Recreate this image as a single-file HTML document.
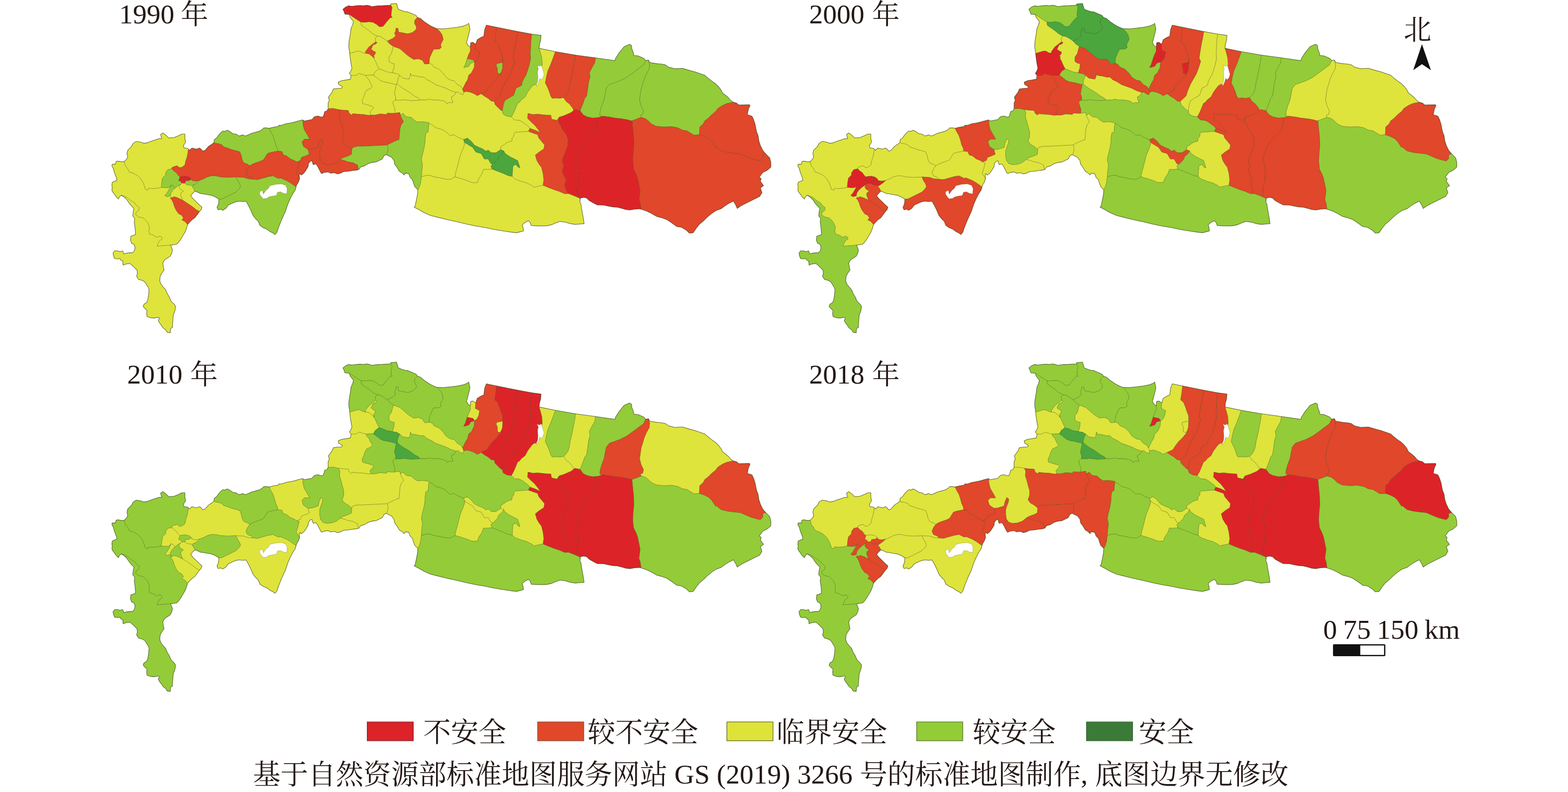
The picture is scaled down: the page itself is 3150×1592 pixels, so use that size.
<!DOCTYPE html>
<html><head><meta charset="utf-8"><title>map</title>
<style>
html,body{margin:0;padding:0;background:#fff;}
body{width:3150px;height:1592px;position:relative;overflow:hidden;font-family:"Liberation Serif","Noto Serif CJK SC",serif;}
</style></head><body>
<svg width="3150" height="1592" viewBox="0 0 3150 1592" style="position:absolute;left:0;top:0">
<defs>
<path id="f0" d="M784.5,10.1L784.4,10.5L773.9,11.1L768.1,11.4L761.1,11.6L754.1,12.2L747.1,13.4L742.5,11.6L736.7,10.5L729.7,11.6L723.9,11.1L716.9,11.4L709.9,12.2L705.2,12.6L700.6,11.6L694.7,14L688.9,18.6L691.2,23.3L693,28.5L701.7,29.1L708.7,33.8L715.7,38.4L725,44.3L733.2,44.8L741.3,43.7L749.5,44.8L756.5,48.9L762.3,53.8L769.3,53L772.8,48.9L776.3,44.3L781.5,38.4L784.4,34.9L788.1,35.6L785.6,31.4L786.2,23.3L787.7,15.1L785,10.2Z"/>
<path id="f1" d="M835.7,30.9L827.5,27.4L819.3,23.9L813.5,23.3L807.7,21.5L800.1,18.6L798.4,12.8L796.6,7L785,7.9L784.5,10.1L785,10.2L787.7,15.1L786.2,23.3L785.6,31.4L788.1,35.6L784.4,34.9L781.5,38.4L776.3,44.3L772.8,48.9L769.3,53L762.3,53.8L756.5,48.9L749.5,44.8L741.3,43.7L733.2,44.8L725,44.3L726.2,51.2L733.2,55.9L741.3,61.7L748.3,67.5L756.5,72.2L757.5,72.4L757.6,72.4L763.4,73.4L771.6,78L778,82.7L789.7,76.9L794.9,72.2L792.6,66.4L794.9,62.9L795.5,56.5L799.5,57.1L800.7,64.6L807.7,65.8L819.3,68.1L828.7,65.2L835.7,59.4L836.8,54.7L832.7,46.6L833.3,40.8L838.6,34.9Z"/>
<path id="f2" d="M871.8,55.3L863.6,51.2L853.1,44.3L845,37.3L838.6,34.9L833.3,40.8L832.7,46.6L836.8,54.7L835.7,59.4L828.7,65.2L819.3,68.1L807.7,65.8L800.7,64.6L799.5,57.1L795.5,56.5L794.9,62.9L792.6,66.4L794.9,72.2L789.7,76.9L778,82.7L783.2,88.5L790.2,93.2L803,97.8L811.2,104.8L819.3,111.8L826.3,116.5L831,119.4L840.3,118.2L848.5,121.1L853.1,128.7L861.9,128.1L862,126.6L862.1,126.5L863,116.5L867.1,107.1L871.2,99L882.8,98.4L886.3,95.5L885.1,89.7L890.4,79.2L888.1,69.9L883.4,62.9L877.6,57.6Z"/>
<path id="f3" d="M944.8,94.4L941,92.1L937.1,85.9L939.4,78.1L941.7,68.8L944.1,58.7L941.7,46.8L939.3,48.9L931.1,52.4L919.5,54.7L905.5,56.5L890.4,58L877.6,57.6L883.4,62.9L888.1,69.9L890.4,79.2L885.1,89.7L886.3,95.5L882.8,98.4L871.2,99L867.1,107.1L863,116.5L862.1,126.5L862,126.6L868.3,130L871.8,134.7L882.2,139.3L890.4,147.5L896.2,155.6L904.4,160.9L912.5,162.6L918.3,169.6L926.5,174.3L928.8,178.9L929.3,179.1L930.9,176L935.5,166.6L939.4,160.4L941.7,151.1L947.2,146.5L952.6,135.6L953.4,124.7L945.6,127L941.7,133.3L931.6,135.9L934.8,129.4L938.6,117.7L941,110.7L944.8,103Z"/>
<path id="f4" d="M955.7,89L950.3,85.1L945.6,85.9L944.8,94.4L944.8,103L941,110.7L938.6,117.7L950.3,120.1L953.4,124.7L958,121.6L961.9,113.9L963.5,104.5L954.9,99.9Z"/>
<path id="f5" d="M997.6,54.8L977.1,50.5L973.6,59.5L972,72.7L966.6,75L958.8,79.7L955.7,89L954.9,99.9L963.5,104.5L961.9,113.9L958,121.6L953.4,124.7L952.6,135.6L947.2,146.5L941.7,151.1L939.4,160.4L935.5,166.6L930.9,176L929.3,179.1L931.6,185.3L931.6,185.3L937.1,183.7L944.8,185.3L952.6,188.4L958.8,192.3L966.6,188.4L978.2,183L983.7,174.4L989.9,166.6L997.6,158.9L1005.4,149.6L1007.1,144.9L1007,144.9L1004.6,148.8L999.2,146.5L999.2,137.1L996.9,132.5L997.6,127.8L1010.1,125.5L1009.8,114.6L1007,107.6L1003.9,98.3L1000,88.2L993.8,82.8L996.1,68.8Z"/>
<path id="f6" d="M1040.3,63.4L997.6,54.8L996.1,68.8L993.8,82.8L1000,88.2L1003.9,98.3L1007,107.6L1009.8,114.6L1010.1,125.5L1009.3,138.7L1007.1,144.9L1005.4,149.6L997.6,158.9L989.9,166.6L983.7,174.4L978.2,183L966.6,188.4L972.8,193L980.6,197.7L986.8,203.1L993,203.9L997.6,199.3L1004.6,193L1007,185.3L1009.3,179.1L1013.2,169.8L1019.4,158.9L1025.6,148L1030.2,135.6L1034.1,123.2L1031,117L1032.6,106.1L1034.9,92.1L1038,76.6Z"/>
<path id="f7" d="M1068.3,68.5L1040.3,63.4L1038,76.6L1034.9,92.1L1032.6,106.1L1031,117L1034.1,123.2L1030.2,135.6L1025.6,148L1019.4,158.9L1013.2,169.8L1009.3,179.1L1007,185.3L1004.6,193L997.6,199.3L993,203.9L994.5,210.1L1000.7,216.3L1006.2,221.8L1009.3,222.5L1010.1,216.3L1011.6,208.6L1014.7,201.6L1022.5,196.9L1031.8,191.5L1034.1,185.3L1036.5,177.5L1042.7,174.4L1048.1,171.3L1048.9,165.1L1052,158.9L1056.6,151.1L1059.8,141.8L1063.6,129.4L1066,117L1065.2,107.6L1066,95.2L1066.7,81.2Z"/>
<path id="f8" d="M1083,97.1L1083.8,89L1086.1,81.2L1086.9,71.1L1068.3,68.5L1066.7,81.2L1066,95.2L1065.2,107.6L1066,117L1063.6,129.4L1059.8,141.8L1056.6,151.1L1052,158.9L1048.9,165.1L1048.1,171.3L1042.7,174.4L1036.5,177.5L1034.1,185.3L1031.8,191.5L1022.5,196.9L1014.7,201.6L1011.6,208.6L1010.1,216.3L1009.3,222.5L1009.4,223.2L1009.6,225.6L1011,229.5L1011.5,229.8L1018,233.4L1027.3,234.9L1029.3,231.3L1032,226.4L1036.6,215.5L1039.8,207.8L1043.6,205.5L1047.3,200.8L1054.1,195.4L1055.1,194.6L1059.8,185.3L1064.4,179.1L1069.1,172.9L1073.7,169.8L1078.4,169.8L1083,162L1086.1,146.5L1089.3,129.4L1088.5,117L1086.1,107.6Z"/>
<path id="f9" d="M1086.1,107.6L1088.5,117L1089.3,129.4L1086.1,146.5L1083,162L1078.4,169.8L1073.7,169.8L1069.1,172.9L1064.4,179.1L1059.8,185.3L1055.1,194.6L1054.1,195.4L1047.3,200.8L1043.6,205.5L1039.8,207.8L1036.6,215.5L1032,226.4L1029.3,231.3L1027.3,234.9L1033.5,241.1L1042.9,241.9L1049.1,245L1055.3,249.7L1061.5,254.3L1064.6,258.2L1073.9,261.3L1085.6,266.8L1080.1,259L1073.9,251.2L1066.9,245L1059.9,238L1060.7,228L1070.8,230.3L1080.1,229.5L1094.1,231.1L1106.5,231.8L1108.1,239.6L1118.9,241.9L1122,237.3L1123.6,235.4L1132.9,232.6L1146.9,226.4L1152.5,222L1152.6,221.9L1149.8,216.3L1143.6,208.6L1137.4,203.9L1132,196.1L1125,197.7L1115.7,196.9L1109.4,197.7L1106.3,193L1104,185.3L1100.9,177.5L1095.5,166.6L1097.8,154.2L1100.9,141.8L1106.3,129.4L1111,117L1115.7,103.8L1083,97.1Z"/>
<path id="f10" d="M1156,110.7L1115.7,103.8L1111,117L1106.3,129.4L1100.9,141.8L1097.8,154.2L1095.5,166.6L1100.9,177.5L1104,185.3L1106.3,193L1109.4,197.7L1115.7,196.9L1125,197.7L1132,196.1L1135.8,193L1140.5,186.8L1143.6,177.5L1145.2,166.6L1148.3,154.2L1151.4,138.7L1154.5,123.2Z"/>
<path id="f11" d="M1196.4,116.2L1156,110.7L1154.5,123.2L1151.4,138.7L1148.3,154.2L1145.2,166.6L1143.6,177.5L1140.5,186.8L1135.8,193L1132,196.1L1137.4,203.9L1143.6,208.6L1149.8,216.3L1152.6,221.9L1154.7,220.2L1165.3,222.5L1168.4,214.8L1171.6,207L1174.7,197.7L1178.5,193L1180.9,177.5L1182.4,165.1L1185.5,154.2L1184,146.5L1188.6,137.1L1194.8,126.3Z"/>
<path id="f12" d="M1281.8,112.3L1273.3,111.5L1272.5,106.1L1269.4,98.3L1268.6,91.3L1264.7,89L1253.9,93.7L1243.8,106.1L1236.8,117L1235.2,121.9L1196.4,116.2L1194.8,126.3L1188.6,137.1L1184,146.5L1185.5,154.2L1182.4,165.1L1180.9,177.5L1178.5,193L1174.7,197.7L1171.6,207L1168.4,214.8L1165.3,222.5L1165.5,222.5L1167.6,225.5L1171.7,231.1L1179.5,234.9L1190.4,237.3L1198.5,236.7L1201.2,236.5L1208.2,234.2L1207.6,233.4L1206.1,231.3L1205.9,231.1L1205,231L1205.7,224.1L1208.8,213.2L1213.5,200.8L1215.8,188.4L1218.1,177.5L1224.3,169.8L1233.7,166.6L1246.1,162L1258.5,155.8L1269.4,148L1281.8,138.7L1292.7,130.9L1297.3,121.6L1292.7,117Z"/>
<path id="f13" d="M1269.4,148L1258.5,155.8L1246.1,162L1233.7,166.6L1224.3,169.8L1218.1,177.5L1215.8,188.4L1213.5,200.8L1208.8,213.2L1205.7,224.1L1205,231L1205.9,231.1L1206.1,231.3L1207.6,233.4L1208.2,234.2L1208.2,234.2L1210.6,233.4L1219.6,234.5L1223,234.9L1235.4,237.3L1249.4,238.8L1261.8,241.1L1266.8,242.6L1269.1,242.9L1277.6,239.8L1287.7,235.9L1288.2,236L1288.2,236L1286.3,231.6L1291.1,230.3L1292.7,222.5L1288,213.2L1284.9,200.8L1286.5,189.9L1288,179.1L1291.1,169.8L1294.2,158.9L1298.9,148L1304.3,138.7L1305.1,129.4L1302.8,120.8L1297.3,121.6L1292.7,130.9L1281.8,138.7Z"/>
<path id="f14" d="M1468.6,202.5L1464,197L1457.8,191.6L1451.6,187L1448.4,180.7L1443.8,174.5L1437.6,168.3L1429.8,162.9L1422,156.7L1415.8,151.2L1406.5,148.1L1395.7,144.3L1386.3,141.9L1378.6,139.6L1370.8,137.3L1355.3,138L1342.9,134.9L1336.6,130.3L1328.9,128.7L1320.3,128L1320,128.1L1305.1,125.5L1302.8,120.8L1305.1,129.4L1304.3,138.7L1298.9,148L1294.2,158.9L1291.1,169.8L1288,179.1L1286.5,189.9L1284.9,200.8L1288,213.2L1292.7,222.5L1291.1,230.3L1286.3,231.6L1288.2,236L1288.2,236L1293.6,237.5L1296.3,238.2L1298.6,239.9L1302.5,242.9L1308.7,249.1L1318,253.7L1333.5,255.3L1349.1,254.5L1361.5,256.8L1370.8,261.5L1380.1,263L1387.9,267.7L1394.1,271.6L1405,270.8L1405.7,255.3L1412.7,249.1L1415.8,242.9L1422,238.2L1429.8,230.4L1437.6,224.2L1442.2,218L1451.6,211.8L1460.9,207.9L1473.3,205.6Z"/>
<path id="f15" d="M1538.3,309.3L1532.3,302.2L1527.6,292.5L1524.5,283.2L1523,272.4L1519.9,264.6L1518.3,256.8L1516.8,249.1L1513.7,239.8L1510.6,233.5L1501.2,230.4L1503.6,219.6L1506.7,212.6L1505.9,210.6L1484.2,211L1479.5,207.1L1473.3,205.6L1460.9,207.9L1451.6,211.8L1442.2,218L1437.6,224.2L1429.8,230.4L1422,238.2L1415.8,242.9L1412.7,249.1L1405.7,255.3L1405,270.8L1414.3,273.9L1423.6,278.6L1429.8,284.8L1436,294.1L1437.4,296.5L1439.1,295.5L1443.3,299.1L1448.4,303.3L1460.9,306.4L1473.3,308L1487.3,309.5L1498.1,314.2L1509,318.8L1519.9,321.9L1527.6,323.5L1532.3,318.8L1532.3,311.1Z"/>
<path id="f16" d="M1498.1,314.2L1487.3,309.5L1473.3,308L1460.9,306.4L1448.4,303.3L1443.3,299.1L1439.1,295.5L1437.4,296.5L1436,294.1L1429.8,284.8L1423.6,278.6L1414.3,273.9L1405,270.8L1394.1,271.6L1387.9,267.7L1380.1,263L1370.8,261.5L1361.5,256.8L1349.1,254.5L1333.5,255.3L1318,253.7L1308.7,249.1L1302.5,242.9L1298.6,239.9L1296.3,238.2L1293.6,237.5L1288.2,236L1287.7,235.9L1277.6,239.8L1269.1,242.9L1269.1,243.4L1269.6,243.5L1270.9,256.9L1271.1,259L1272.7,274.5L1273.4,293.2L1271.9,308.7L1271.1,324.2L1272.7,339.8L1273.1,340.6L1277.3,349.1L1277.7,350L1280.4,356.8L1283.5,370.8L1285.9,383.2L1284.4,395.1L1284.3,395.7L1283.6,401.2L1283.9,402.1L1286.2,408.9L1287.7,420.5L1287.7,420.6L1290.1,421.3L1299.4,424.4L1308.7,429.1L1319.6,435.3L1328.9,437.6L1339.8,441.5L1349.1,447.7L1359.9,455.5L1369.3,457L1378.6,462.5L1384.8,468.7L1392.5,467.9L1398.8,458.6L1405,450.8L1412.7,444.6L1420.5,436.8L1429.8,429.1L1439.1,422.9L1448.4,419.8L1454.7,415.1L1464,408.9L1473.3,404.2L1478,412L1481.1,419L1488.8,413.5L1501.2,407.3L1513.7,401.1L1526.1,394.9L1530.7,387.1L1527.6,377.8L1533.9,373.2L1527.6,364.6L1529.2,359.2L1525.3,356.1L1532.3,346.8L1541.6,342.1L1548.6,335.9L1548.6,326.6L1546.3,317.3L1538.5,309.5L1538.4,309.3L1538.5,309.2L1538.3,309.3L1532.3,311.1L1532.3,318.8L1527.6,323.5L1519.9,321.9L1509,318.8Z"/>
<path id="f17" d="M1212.4,412.3L1221.7,414.3L1231.1,415.9L1240.4,416.6L1249.7,419L1257.5,421.3L1265.2,422.1L1274.5,420.5L1284.6,419.8L1287.7,420.6L1287.7,420.5L1286.2,408.9L1283.9,402.1L1283.6,401.2L1284.3,395.7L1284.4,395.1L1285.9,383.2L1283.5,370.8L1280.4,356.8L1277.7,350L1277.3,349.1L1273.1,340.6L1272.7,339.8L1271.1,324.2L1271.9,308.7L1273.4,293.2L1272.7,274.5L1271.1,259L1270.9,256.9L1269.6,243.5L1269.1,243.4L1269.1,242.9L1266.8,242.6L1261.8,241.1L1249.4,238.8L1235.4,237.3L1223,234.9L1219.6,234.5L1210.6,233.4L1208.2,234.2L1208.2,234.2L1201.2,236.5L1199.7,246.6L1197.4,257.5L1191.9,266.8L1182.6,276.1L1173.3,283.9L1167.1,296.3L1162.4,308.7L1158.5,321.1L1162.4,332L1164,347.5L1162.4,363L1159.3,378.6L1158.5,394.1L1158.7,395.8L1161.5,397L1164,398L1165.5,400.1L1165.7,398.3L1172.7,396.8L1178.9,398.3L1183.5,403L1191.3,407.6L1200,412Z"/>
<path id="f18" d="M1154.7,394.1L1142.2,389.1L1134.5,389.4L1123.6,384.8L1114.3,381.7L1101.9,377L1091,372.4L1083.2,373.9L1072.4,376.2L1067.7,372.4L1058.4,367.7L1047.5,364.6L1035.1,359.9L1028.9,354.5L1021.1,353L1008.7,347.5L996.3,342.9L988.5,339.8L980.7,340.5L971.4,340.5L968.3,349.1L962.1,358.4L959,366.9L948.1,366.9L938.8,363L924.8,358.4L914,355.3L906.2,359.9L900.1,360.7L900.1,360.7L900,360.7L890.7,359L879.9,356.6L870.6,355.1L862.8,352L855,352.8L846.5,355.1L844.9,367.5L842.6,375.3L839.5,381.5L839.4,381.6L838.7,390.9L836.3,403.3L834,414.2L831.8,416.2L840.4,420.8L851.2,427L865.2,433.3L880.7,437.1L899.4,441.8L918,445.7L936.6,450.3L955.3,454.2L973.9,457.3L992.5,461.2L1011.2,464.3L1026.7,466.6L1037.6,467.9L1045.3,465.9L1051.6,464.3L1050.8,457.3L1049.2,451.9L1054.7,447.2L1061.6,443.4L1065.5,448L1067.1,453.4L1078,453.9L1087.3,454.2L1098.1,453.9L1107.5,451.9L1116.8,448L1124.5,445.2L1135.4,446.5L1146.3,449.6L1155.6,451.1L1164.9,450.3L1173.4,449.6L1171.9,438.7L1169.6,426.3L1168,417L1167.2,410.7L1164.9,406.1L1165.3,402L1167.1,402.2L1165.5,400.1L1164,398L1161.5,397L1158.7,395.8Z"/>
<path id="f19" d="M780.5,313.2L786.7,316.3L791.4,322.5L792.9,330.2L797.6,336.5L802.2,344.2L808.4,348.1L811.6,352L813.9,348.1L820.9,348.9L824,356.6L828.6,361.3L831,369.1L833.3,375.3L839.5,381.5L842.6,375.3L844.9,367.5L846.5,355.1L847.3,344.2L848.8,331.8L846.5,320.9L848,313.2L851.9,297.6L854.3,282.1L853.7,281.6L854.3,275.6L855.5,267.4L860.1,265.1L860.7,255.8L861.9,247.6L862.1,247.3L861.3,246.5L849.6,244.7L838,245.3L831,240.6L826.3,236L817,234.8L812.4,231.3L810,227.8L804.8,231.3L804.5,231.4L805.4,234.8L808.3,240.6L810.6,244.7L806,250.5L803.6,258.1L802.5,269.8L801.3,281.5L800.7,280.6L792.9,283.7L783.6,288.3L777.4,291.4L779.7,296.1L778.9,303.9L777.4,309.3L775.8,310.8Z"/>
<path id="f20" d="M719.8,340.9L721.5,340.3L724.6,335.7L732.4,333.4L740.1,328.7L747.9,326.4L755.7,325.6L761.9,322.5L768.1,319.4L771.2,313.2L775.8,310.8L777.4,309.3L778.9,303.9L779.7,296.1L777.4,291.4L761.9,292.2L746.3,293L730.8,293.8L718.4,293.8L709.1,296.1L706.7,300L706,310.1L699.8,313.2L688.9,317L682.7,320.9L688.9,321.7L699.8,325.6L709.1,327.1L718.4,331.8Z"/>
<path id="f21" d="M718.4,331.8L709.1,327.1L699.8,325.6L688.9,321.7L682.7,320.9L681.1,322.5L674.9,327.1L665.6,330.2L656.3,331L648.5,328.7L643.9,322.5L642.3,313.2L642.3,303.9L644.6,296.1L647.7,288.3L648.5,282.1L644.6,279L640.7,288.3L639.2,296.1L626.8,300L619,300.7L621.3,310.1L614.3,313.2L605.8,316.3L603.5,322.5L595.7,325.6L601.1,327.1L598,339.6L594.9,348.9L600.4,356.6L601.9,359.8L601.1,352L602.7,348.9L605,352L609.7,348.9L614.3,342.7L619,334.9L619.8,328.7L623.7,324L626.8,323.3L629.1,331L634.5,329.5L637.6,333.4L640.7,339.6L644.6,347.3L646.2,348.9L651.6,346.6L659.4,345.8L664,348.1L671.8,347.3L678,349.7L684.2,348.1L690.4,345L699.8,344.2L709.1,342.7L716.8,341.9L719.7,340.9L719.9,341.4L719.8,340.9Z"/>
<path id="f22" d="M595.7,372.2L598.8,367.5L601.9,359.8L600.4,356.6L594.9,348.9L598,339.6L601.1,327.1L595.7,325.6L591.1,322.5L583.3,319.4L575.5,313.2L569.3,311.6L566.2,304.6L560.9,304L560.8,304L560,303.9L557.8,303.7L545.4,306L537.6,308.3L534.5,313L529.9,320.7L523.7,323.9L514.3,327L506.6,330.1L501.9,333.2L497.3,339.4L494.2,347.1L497.3,353.4L505,356.5L508.1,360.3L517.5,361.1L528.3,358L539.2,354.9L548.5,353.4L557.8,358L559.5,358.4L560.9,358.8L561.5,357.2L566.2,359L575.5,362.9L583.3,367.5L591.1,373L594.8,375.7Z"/>
<path id="f23" d="M591.1,373L583.3,367.5L575.5,362.9L566.2,359L561.5,357.2L560.9,358.8L559.5,358.4L557.8,358L548.5,353.4L539.2,354.9L528.3,358L517.5,361.1L508.1,360.3L498.8,359.6L489.5,356.5L474,355.7L477.1,362.7L481,368.9L483.3,375.1L480.2,379.8L474,386L464.7,390.6L455.3,395.3L446,399.9L439.8,400.2L439,409.5L435.9,417.3L438.3,421.9L442.9,420.4L447.6,422.7L453.8,418.8L458.4,412.6L466.2,408.7L474,405.6L480.2,404.5L488,405.3L494.2,404.5L498.8,412.6L503.5,421.9L508.1,432.8L512.8,439L519,445.2L522.1,453L528.3,457.6L536.1,460.7L542.3,465.4L548.5,468.5L552.4,471.6L556.3,467L559.4,457.6L565.6,442.1L573.4,425L578,411.1L582.7,400.2L587.3,390.9L593.4,381.5L594.8,375.7L594.9,375.7L594.8,375.7Z"/>
<path id="f24" d="M391.6,384.4L391.7,384.3L396.3,385.9L402.5,389L408.8,389.8L416.5,391.3L424.3,392.4L432,395.5L439.8,400.2L446,399.9L455.3,395.3L464.7,390.6L474,386L480.2,379.8L483.3,375.1L481,368.9L477.1,362.7L474,355.7L458.4,356.5L442.9,355.7L433.6,353.4L424.3,353.4L416.5,355.7L408.8,359.6L401,362.7L396.3,367.3L391.7,370.4L385.5,375.1L388.6,378.2Z"/>
<path id="f25" d="M388.6,378.2L385.5,375.1L391.7,370.4L385.5,372.8L374.6,371.2L371.5,368.1L365.3,368.1L363,370.4L359.1,375.1L361.4,379.8L368.4,384.4L363.7,387.5L363,392.2L365.3,398.4L366.8,402.5L366.8,402.5L366.8,402.5L368.4,403.3L377.7,409.5L387,415.7L394.8,421.9L401,425L404.1,421.6L405.7,416.5L399.4,410.7L394.8,406.1L388.6,400.2L383.1,393.7L387,388.5L391.5,384.5L391.7,384.7L391.6,384.4Z"/>
<path id="f26" d="M380.8,446.8L385.5,442.1L391.7,437.5L396.3,431.2L401,425L394.8,421.9L387,415.7L377.7,409.5L368.4,403.3L366.8,402.5L366.8,402.5L366.8,402.5L359.1,398.6L350.5,395.5L342.4,398.5L342.1,398.7L345.1,401.7L348.2,408L350.5,415.7L354.4,423.5L359.1,429.7L365.3,432.8L368.4,438.2L365.3,442.1L371.5,445.2L376.9,451.4Z"/>
<path id="f27" d="M357.5,488.7L362.2,482.5L366.8,474.7L371.5,467L374.6,459.2L376.9,451.4L371.5,445.2L365.3,442.1L368.4,438.2L365.3,432.8L359.1,429.7L354.4,423.5L350.5,415.7L348.2,408L345.1,401.7L342.1,398.7L342.4,398.5L345.1,396.8L342,393.7L335.8,395.3L331.1,393L335.8,387.5L340.4,379.8L343.5,372L340.4,376.6L334.2,377.4L324.1,376.6L315.6,378.2L306.3,379L298.5,378.2L297,382.1L292.3,380.5L290.7,375.1L287.6,367.3L283,359.6L276.8,353.4L269,348.7L259.7,345.6L256.6,339.4L251.9,333.2L249.6,324.6L245.7,325.4L237.2,323.9L233.3,324.6L231.7,330.1L225.5,330.1L224.8,333.2L227.9,339.4L229.4,345.6L231.7,351.8L234.1,358L234.8,362.7L230.2,364.2L225.5,366.6L224.8,372L225.5,378.2L224.8,380L225.5,384.7L230.2,390.9L233.3,395.5L238,400.2L239.5,396.3L243.4,392.4L250.4,394.8L256.6,397.9L262.8,403.3L270.6,408L273.7,412.6L279.9,417.3L278.3,423.5L273.7,426.6L272.1,431.2L278.3,435.9L287.6,438.2L292.3,442.1L297,448.3L300.1,456.1L299.3,463.9L300.1,470.1L309.4,473.2L314,477L321.8,474.7L325.7,477.8L324.9,480.9L320.2,484L317.1,490.2L315.6,494.9L324.9,494.1L334.2,493.4L342.8,492.6L349.8,491.8L354.4,491Z"/>
<path id="f28" d="M243.4,392.4L248.8,395.5L255,401.7L259.7,408.7L264.3,414.2L269,418.8L267.5,426.6L266.7,434.3L270.6,439L269.8,446.8L271.3,457.6L272.1,467L272.1,471.6L267.5,473.2L262.8,474.7L262,482.5L264.3,488.7L269.8,491.8L271.3,498L269.8,504.2L265.9,508.1L259.7,508.1L253.5,508.9L248.8,510.4L246.5,504.2L241.1,505.8L236.4,504.2L230.2,504.2L227.1,508.9L227.9,513.5L230.2,519.8L236.4,520.5L241.1,519.8L242.6,522.9L246.5,524.4L247.3,533L253.5,530.6L261.2,529.8L265.9,533.7L270.6,538.4L275.2,543L276,549.3L274.4,555.5L278.3,561.7L284.5,563.2L290.7,566.3L294.6,572.5L298.5,578.8L299.3,582.2L299.3,583.5L298.5,592.8L297,602.1L294.6,608.3L289.2,611.4L287.6,616.1L291.5,620.7L295.4,623.9L294.6,630.1L295.4,636.3L301.6,638.6L309.4,639.4L318.7,637.8L320.2,639.4L317.9,644L320.2,648.7L324.9,654.9L328,659.6L332.7,662.7L335.8,668.1L342,668.9L342.8,660.3L346.6,658L346.6,651.8L347.4,642.5L348.2,633.2L351.3,625.4L352.9,616.1L349.8,611.4L343.5,605.2L340.4,597.5L335.8,589.7L332.7,582.2L328,577.2L323.4,571L321,564.8L321.8,555.5L324.9,549.3L329.6,543L328,535.3L327.2,529.1L330.3,522.9L335.8,519L342,515.1L345.1,508.9L346.6,502.7L344.3,496.5L342.8,492.6L334.2,493.4L324.9,494.1L315.6,494.9L317.1,490.2L320.2,484L324.9,480.9L325.7,477.8L321.8,474.7L314,477L309.4,473.2L300.1,470.1L299.3,463.9L300.1,456.1L297,448.3L292.3,442.1L287.6,438.2L278.3,435.9L272.1,431.2L273.7,426.6L278.3,423.5L279.9,417.3L273.7,412.6L270.6,408L262.8,403.3L256.6,397.9L250.4,394.8Z"/>
<path id="f29" d="M378.5,299.8L376.9,298.2L369.9,297.5L368.4,292.8L373,285.8L371.5,278.8L371.5,269.5L365.3,269.5L359.1,272.6L349.8,276.5L338.9,277.3L332.7,271.1L327.2,267.2L322.6,270.3L324.9,278.8L318.7,278.8L312.5,281.1L304.7,283.5L297,286.6L289.2,288.1L283,285.8L273.7,284.3L267.5,288.1L264.3,294.3L256.6,302.1L255,308.3L256.6,316.1L253.5,320.7L249.6,324.6L251.9,333.2L256.6,339.4L259.7,345.6L269,348.7L276.8,353.4L283,359.6L287.6,367.3L290.7,375.1L292.3,380.5L297,382.1L298.5,378.2L306.3,379L315.6,378.2L324.1,376.6L324.9,367.3L326.5,358L332.7,351.8L332.7,347.1L337.3,340.9L345.1,339.4L345.1,337L349.8,334.7L356,333.2L360.6,337L365.3,336.3L371.5,331.6L373,323.9L376.1,314.5L377.7,305.2Z"/>
<path id="f30" d="M429.7,286.6L425.8,289.7L419.6,293.6L411.9,302.1L407.2,303.7L404.1,299.8L401,297.5L394.8,299.8L385.5,297.5L380.8,302.1L378.5,299.8L377.7,305.2L376.1,314.5L373,323.9L371.5,331.6L365.3,336.3L360.6,337L356,333.2L349.8,334.7L345.1,337L345.1,339.4L349.8,344L354.4,347.1L357.5,351.8L361.4,355.7L363.7,354.9L371.5,354.1L379.3,355.7L384.7,359.6L385.5,362.7L393.2,364.2L401,362.7L408.8,359.6L416.5,355.7L424.3,353.4L433.6,353.4L442.9,355.7L458.4,356.5L474,355.7L489.5,356.5L498.8,359.6L508.1,360.3L505,356.5L497.3,353.4L494.2,347.1L497.3,339.4L501.9,333.2L497.3,330.1L489.5,327L486.4,320.7L484.8,313L481.7,305.2L474,302.9L464.7,300.6L456.9,297.5L449.1,295.1L446,291.2L439.8,288.9L433.6,288.1Z"/>
<path id="f31" d="M540.7,257.9L536.1,257.1L529.9,257.1L526.8,260.2L522.1,263.3L514.3,265.6L505,268L498.8,271.1L492.6,273.4L488,271.1L480.2,273.4L474,269.5L467.8,268.7L461.6,264.1L456.1,261.7L452.2,264.1L447.6,263.3L442.9,267.2L438.3,272.6L435.2,277.3L430.5,280.4L429.7,286.6L433.6,288.1L439.8,288.9L446,291.2L449.1,295.1L456.9,297.5L464.7,300.6L474,302.9L481.7,305.2L484.8,313L486.4,320.7L489.5,327L497.3,330.1L501.9,333.2L506.6,330.1L514.3,327L523.7,323.9L529.9,320.7L534.5,313L537.6,308.3L545.4,306L557.8,303.7L557.8,301.3L557,297.5L553.9,291.2L551.6,281.9L548.5,272.6L543.9,264.8Z"/>
<path id="f32" d="M591.1,245.6L583.3,247.2L574,248.7L566.2,251.8L560,251.8L559.4,254L550.1,255.5L540.7,257.9L543.9,264.8L548.5,272.6L551.6,281.9L553.9,291.2L557,297.5L557.8,301.3L557.8,303.7L560,303.9L560.8,304L560.9,304L566.2,304.6L569.3,311.6L575.5,313.2L583.3,319.4L591.1,322.5L595.7,325.6L603.5,322.5L605.8,316.3L614.3,313.2L621.3,310.1L619,300.7L609.7,294.5L606.6,285.2L611.2,279.8L622.1,279.8L617.5,271.2L611.2,260.4L608.9,251.1L608.1,241L598.8,243.3Z"/>
<path id="f33" d="M650.5,231.3L648.2,235.4L643.5,234.8L640,233.6L637.6,233.2L631.4,234.8L626.8,240.2L619,241.7L611.2,243.3L608.1,241L608.9,251.1L611.2,260.4L617.5,271.2L622.1,279.8L611.2,279.8L606.6,285.2L609.7,294.5L619,300.7L626.8,300L639.2,296.1L640.7,288.3L644.6,279L648.5,282.1L647.7,288.3L644.6,296.1L642.3,303.9L642.3,313.2L643.9,322.5L648.5,328.7L656.3,331L665.6,330.2L674.9,327.1L681.1,322.5L682.7,320.9L688.9,317L699.8,313.2L706,310.1L706.7,300L699.8,294.5L692,289.9L687.3,283.7L687.9,282L690.4,274.3L690.4,265L687.3,254.2L686,248.9L685.9,248.7L685,244.8L681.9,235.5L682.7,226.2L679.9,220.3L679.7,220.3L679.6,220.3L669.1,217.9L659.2,218.5L656.3,223.2L652.2,224.3Z"/>
<path id="f34" d="M704.1,159.1L694.7,160.9L686.6,162L679.6,164.9L680.2,169.6L687.7,174.3L686.6,177.2L678.4,177.7L669.7,178.9L667.4,184.7L663.3,190.6L659.8,195.2L661.5,202.2L659.2,206.9L659.2,218.5L669.1,217.9L679.6,220.3L679.7,220.3L679.9,220.3L688.9,221.4L699.4,222L701.7,227.8L706.4,231.3L708.7,228.4L719.2,229.6L730.8,230.2L740.2,231.9L744.8,231.3L743.6,224.3L747.1,220.8L750.6,216.8L747.1,213.3L736.7,210.4L728.5,208L727.3,202.2L730.8,195.2L733.2,187.1L736.7,181.2L744.8,177.7L748.3,173.7L744.8,168.4L741.3,160.3L736.7,155.6L735.5,151.5L728.5,149.8L721.5,147.5L714.5,151.5L705.2,151.5Z"/>
<path id="f35" d="M702.5,107.2L703.5,116.5L705.2,128.1L707,137.4L703.5,145.6L701.7,147L705.2,151.5L714.5,151.5L721.5,147.5L728.5,149.8L735.5,151.5L742.5,151L750.1,151L754.1,144L761.1,138.7L762.2,139L762.3,138.6L761.1,137.4L757.6,130.4L754.1,122.3L749.5,114.7L741.3,108.3L734.3,107.1L728.5,106L723.9,103.1L719.2,102.5L711,104.8L703.5,107.1Z"/>
<path id="f36" d="M701.7,29.1L703.5,34.9L709.9,43.1L708.7,48.9L705.2,57.1L703.5,69.9L701.1,83.9L700.6,94.3L702.3,104.8L702.5,107.2L703.5,107.1L711,104.8L719.2,102.5L723.9,103.1L728.5,106L734.3,107.1L734.3,103.6L741.3,94.3L747.1,89.7L754.7,83.9L754.1,76.9L757.5,72.4L756.5,72.2L748.3,67.5L741.3,61.7L733.2,55.9L726.2,51.2L725,44.3L715.7,38.4L708.7,33.8Z"/>
<path id="f37" d="M757.6,72.4L757.5,72.4L754.1,76.9L754.7,83.9L757.6,85.6L754.7,88.5L749.5,90.3L745.4,99L751.8,103.6L754.7,104.8L753,109.5L750.6,111.8L752.4,116.5L749.5,114.7L754.1,122.3L757.6,130.4L761.1,137.4L762.3,138.6L762.2,139L768.1,140.5L777.4,144.6L787.9,146.3L788.3,146.4L788.5,145.6L791.4,136.3L792,128.1L786.7,126.9L781.5,123.4L781.5,114.7L786.7,107.1L787.9,101.3L790.2,93.2L783.2,88.5L778,82.7L771.6,78L763.4,73.4Z"/>
<path id="f38" d="M862,126.6L861.9,128.1L853.1,128.7L848.5,121.1L840.3,118.2L831,119.4L826.3,116.5L819.3,111.8L811.2,104.8L803,97.8L790.2,93.2L787.9,101.3L786.7,107.1L781.5,114.7L781.5,123.4L786.7,126.9L792,128.1L791.4,136.3L788.5,145.6L788.3,146.4L797.2,148.1L803,151.5L808.9,156.8L814.7,158L821.7,159.1L824,153.3L824.6,147.5L826.3,151.5L835.7,152.7L845,155L852,155L856.6,159.7L867.1,164.9L875.2,170.2L886.9,174.3L896.2,177.7L905.5,182.4L916,185.9L919.5,184.7L924.2,188.2L930,190.6L931.6,185.3L929.3,179.1L928.8,178.9L926.5,174.3L918.3,169.6L912.5,162.6L904.4,160.9L896.2,155.6L890.4,147.5L882.2,139.3L871.8,134.7L868.3,130Z"/>
<path id="f39" d="M749.5,114.7L752.4,116.5L750.6,111.8L753,109.5L754.7,104.8L751.8,103.6L745.4,99L749.5,90.3L754.7,88.5L757.6,85.6L754.7,83.9L747.1,89.7L741.3,94.3L734.3,103.6L734.3,107.1L741.3,108.3Z"/>
<path id="f40" d="M750.1,151L742.5,151L735.5,151.5L736.7,155.6L741.3,160.3L744.8,168.4L748.3,173.7L744.8,177.7L736.7,181.2L733.2,187.1L730.8,195.2L727.3,202.2L728.5,208L736.7,210.4L747.1,213.3L750.6,216.8L747.1,220.8L743.6,224.3L744.8,231.3L754.1,231.3L763.4,229L770.4,229.6L776.3,230.2L778,227.2L786.7,227.8L792.6,227.8L793.7,220.8L791.4,213.9L789.1,205.7L791.4,202.8L794.9,201L794.9,195.2L792.6,188.2L794.3,178.9L796.1,170.2L789.1,168.4L779.8,166.1L770.4,164.4L763.4,161.4L756.5,155.6Z"/>
<path id="f41" d="M761.1,138.7L754.1,144L750.1,151L756.5,155.6L763.4,161.4L770.4,164.4L779.8,166.1L789.1,168.4L796.1,170.2L797.6,167.7L797.8,167.3L799.5,159.1L803,151.5L797.2,148.1L788.3,146.4L787.9,146.3L777.4,144.6L768.1,140.5L762.2,139Z"/>
<path id="f42" d="M916,185.9L905.5,182.4L896.2,177.7L886.9,174.3L875.2,170.2L867.1,164.9L856.6,159.7L852,155L845,155L835.7,152.7L826.3,151.5L824.6,147.5L824,153.3L821.7,159.1L814.7,158L808.9,156.8L803,151.5L799.5,159.1L797.8,167.3L797.6,167.7L797.8,167.8L803,173.1L811.2,178.9L819.3,183.6L826.3,188.2L833.3,193.5L840.3,197L843.8,201L855.5,201L862.4,199.3L868.3,201L879.9,201L890.4,202.8L896.2,205.7L898,209.2L900.9,206.3L910.2,206.3L907.9,199.9L906.7,195.2L912.5,191.7Z"/>
<path id="f43" d="M919.5,184.7L916,185.9L912.5,191.7L906.7,195.2L907.9,199.9L910.2,206.3L900.9,206.3L898,209.2L896.2,205.7L890.4,202.8L879.9,201L868.3,201L862.4,199.3L855.5,201L843.8,201L838,201.6L826.3,202.2L817,201L810,200.5L803,201.6L794.9,201L791.4,202.8L789.1,205.7L791.4,213.9L793.7,220.8L792.6,227.8L803,226.1L804.2,230.2L804.5,231.4L804.8,231.3L810,227.8L812.4,231.3L817,234.8L826.3,236L831,240.6L838,245.3L849.6,244.7L861.3,246.5L862.1,247.3L863.6,248.8L868.3,251.1L875.2,256.9L884.6,259.3L892.7,262.8L898.5,267.4L899,267.9L904.4,273.2L905.6,272.3L906.7,271.5L908.1,272.1L910.9,270.7L920.2,276.1L925.6,278.4L931.1,280.7L938.8,277.6L946.6,283.9L952.8,291.6L962.1,296.3L969.9,299.4L976.1,304L980.7,301.7L987,307.1L996.3,307.1L1005.6,300.9L1006.4,294.7L1011.8,291.6L1018,287L1024.2,284.6L1028.1,283.9L1028.9,277.6L1032,274.5L1032.8,268.3L1035.1,266L1046,265.2L1055.3,264.4L1062.3,264.4L1062.3,262.1L1064.6,258.2L1061.5,254.3L1055.3,249.7L1049.1,245L1042.9,241.9L1033.5,241.1L1027.3,234.9L1018,233.4L1011.5,229.8L1011,229.5L1009.6,225.6L1009.4,223.2L1009.3,222.5L1006.2,221.8L1000.7,216.3L994.5,210.1L993,203.9L986.8,203.1L980.6,197.7L972.8,193L966.6,188.4L958.8,192.3L952.6,188.4L944.8,185.3L937.1,183.7L931.6,185.3L931.6,185.3L930,190.6L924.2,188.2Z"/>
<path id="f44" d="M797.6,167.7L796.1,170.2L794.3,178.9L792.6,188.2L794.9,195.2L794.9,201L803,201.6L810,200.5L817,201L826.3,202.2L838,201.6L843.8,201L840.3,197L833.3,193.5L826.3,188.2L819.3,183.6L811.2,178.9L803,173.1L797.8,167.8Z"/>
<path id="f45" d="M740.2,231.9L730.8,230.2L719.2,229.6L708.7,228.4L706.4,231.3L701.7,227.8L699.4,222L688.9,221.4L679.9,220.3L682.7,226.2L681.9,235.5L685,244.8L685.9,248.7L686,248.9L687.3,254.2L690.4,265L690.4,274.3L687.9,282L687.3,283.7L692,289.9L699.8,294.5L706.7,300L709.1,296.1L718.4,293.8L730.8,293.8L746.3,293L761.9,292.2L777.4,291.4L783.6,288.3L792.9,283.7L800.7,280.6L801.3,281.5L802.5,269.8L803.6,258.1L806,250.5L810.6,244.7L808.3,240.6L805.4,234.8L804.5,231.4L804.2,230.2L803,226.1L792.6,227.8L786.7,227.8L778,227.2L776.3,230.2L770.4,229.6L763.4,229L754.1,231.3L744.8,231.3Z"/>
<path id="f46" d="M861.9,247.6L860.7,255.8L860.1,265.1L855.5,267.4L854.3,275.6L853.7,281.6L854.3,282.1L851.9,297.6L848,313.2L846.5,320.9L848.8,331.8L847.3,344.2L846.5,355.1L855,352.8L862.8,352L870.6,355.1L879.9,356.6L890.7,359L900,360.7L900.1,360.7L900.1,360.7L906.2,359.9L914,355.3L915.5,347.5L918.6,336.6L921.7,324.2L924.8,311.8L929.5,300.9L933.4,290.1L932.6,284.6L932.9,284.4L931.1,280.7L925.6,278.4L920.2,276.1L910.9,270.7L908.1,272.1L906.7,271.5L905.6,272.3L904.4,273.2L899,267.9L898.5,267.4L892.7,262.8L884.6,259.3L875.2,256.9L868.3,251.1L863.6,248.8L862.1,247.3Z"/>
<path id="f47" d="M938.6,117.7L934.8,129.4L931.6,135.9L941.7,133.3L945.6,127L953.4,124.7L950.3,120.1Z"/>
<path id="f48" d="M1007.1,144.9L1009.3,138.7L1010.1,125.5L997.6,127.8L996.9,132.5L999.2,137.1L999.2,146.5L1004.6,148.8L1007,144.9Z"/>
<path id="f49" d="M1132.9,232.6L1123.6,235.4L1122,243.5L1126.7,252.8L1131.4,262.1L1137.6,269.9L1141.5,280.7L1140.7,293.2L1136,305.6L1131.4,316.5L1129.8,324.2L1132.9,333.5L1129.8,342.9L1132.9,352.2L1137.6,361.5L1134.5,370.8L1137.6,383.2L1142.2,389.1L1154.7,394.1L1158.7,395.8L1158.5,394.1L1159.3,378.6L1162.4,363L1164,347.5L1162.4,332L1158.5,321.1L1162.4,308.7L1167.1,296.3L1173.3,283.9L1182.6,276.1L1191.9,266.8L1197.4,257.5L1199.7,246.6L1201.2,236.5L1198.5,236.7L1190.4,237.3L1179.5,234.9L1171.7,231.1L1167.6,225.5L1165.5,222.5L1165.3,222.5L1154.7,220.2L1152.6,221.9L1152.5,222L1146.9,226.4Z"/>
<path id="f50" d="M1060.7,228L1059.9,238L1066.9,245L1073.9,251.2L1080.1,259L1085.6,266.8L1073.9,261.3L1064.6,258.2L1062.3,262.1L1062.3,264.4L1070.8,267.5L1080.1,270.7L1082.5,277.6L1087.9,283.9L1094.1,291.6L1092.5,299.4L1083.2,305.6L1075.5,311.8L1078.6,322.7L1083.2,330.4L1087.9,336.6L1091,349.1L1092.5,361.5L1091,372.4L1101.9,377L1114.3,381.7L1123.6,384.8L1134.5,389.4L1142.2,389.1L1137.6,383.2L1134.5,370.8L1137.6,361.5L1132.9,352.2L1129.8,342.9L1132.9,333.5L1129.8,324.2L1131.4,316.5L1136,305.6L1140.7,293.2L1141.5,280.7L1137.6,269.9L1131.4,262.1L1126.7,252.8L1122,243.5L1123.6,235.4L1122,237.3L1118.9,241.9L1108.1,239.6L1106.5,231.8L1094.1,231.1L1080.1,229.5L1070.8,230.3Z"/>
<path id="f51" d="M1080.1,270.7L1070.8,267.5L1062.3,264.4L1055.3,264.4L1046,265.2L1035.1,266L1032.8,268.3L1032,274.5L1028.9,277.6L1028.1,283.9L1024.2,284.6L1018,287L1011.8,291.6L1006.4,294.7L1005.6,300.9L1011.8,303.3L1014.9,308.7L1024.2,314.9L1033.5,319.6L1039.8,322.7L1042.9,332L1044.4,337.4L1039.8,335.1L1036.6,330.4L1030.4,333.5L1029.7,342.9L1028.9,354.5L1035.1,359.9L1047.5,364.6L1058.4,367.7L1067.7,372.4L1072.4,376.2L1083.2,373.9L1091,372.4L1092.5,361.5L1091,349.1L1087.9,336.6L1083.2,330.4L1078.6,322.7L1075.5,311.8L1083.2,305.6L1092.5,299.4L1094.1,291.6L1087.9,283.9L1082.5,277.6Z"/>
<path id="f52" d="M1005.6,300.9L996.3,307.1L987,307.1L980.7,301.7L976.1,304L969.9,299.4L962.1,296.3L952.8,291.6L946.6,283.9L938.8,277.6L931.1,280.7L932.9,284.4L934.2,287L941.9,291.6L949.7,296.3L955.9,305.6L966.8,308.7L973,319.6L980.7,319.6L986.2,328.9L990.1,330.4L993.2,327.3L999.4,321.1L1001.7,314.9L1008.7,308.7L1011.8,303.3Z"/>
<path id="f53" d="M1011.8,303.3L1008.7,308.7L1001.7,314.9L999.4,321.1L993.2,327.3L990.1,330.4L986.2,333.5L988.5,339.8L996.3,342.9L1008.7,347.5L1021.1,353L1028.9,354.5L1029.7,342.9L1030.4,333.5L1036.6,330.4L1039.8,335.1L1044.4,337.4L1042.9,332L1039.8,322.7L1033.5,319.6L1024.2,314.9L1014.9,308.7Z"/>
<path id="f54" d="M990.1,330.4L986.2,328.9L980.7,319.6L973,319.6L966.8,308.7L955.9,305.6L949.7,296.3L941.9,291.6L934.2,287L932.9,284.4L932.6,284.6L933.4,290.1L929.5,300.9L924.8,311.8L921.7,324.2L918.6,336.6L915.5,347.5L914,355.3L924.8,358.4L938.8,363L948.1,366.9L959,366.9L962.1,358.4L968.3,349.1L971.4,340.5L980.7,340.5L988.5,339.8L986.2,333.5Z"/>
<path id="f55" d="M393.2,364.2L385.5,362.7L384.7,359.6L380.8,362.7L373,363.4L371.5,368.1L374.6,371.2L385.5,372.8L391.7,370.4L396.3,367.3L401,362.7Z"/>
<path id="f56" d="M384.7,359.6L379.3,355.7L371.5,354.1L363.7,354.9L361.4,355.7L359.1,363.4L363,364.2L365.3,368.1L371.5,368.1L373,363.4L380.8,362.7Z"/>
<path id="f57" d="M361.4,355.7L357.5,351.8L354.4,347.1L349.8,344L345.1,339.4L337.3,340.9L332.7,347.1L332.7,351.8L326.5,358L324.9,367.3L324.1,376.6L334.2,377.4L340.4,376.6L343.5,372L348.2,373.5L351.3,378.2L357.5,373.5L363,370.4L365.3,368.1L363,364.2L359.1,363.4Z"/>
<path id="f58" d="M363,370.4L357.5,373.5L351.3,378.2L346.6,382.9L343.5,387.5L342,393.7L345.1,396.8L342.4,398.5L350.5,395.5L359.1,398.6L366.8,402.5L365.3,398.4L363,392.2L363.7,387.5L368.4,384.4L361.4,379.8L359.1,375.1Z"/>
<path id="f59" d="M351.3,378.2L348.2,373.5L343.5,372L340.4,379.8L335.8,387.5L331.1,393L335.8,395.3L342,393.7L343.5,387.5L346.6,382.9Z"/>
<path id="ol" d="M688.9,18.6L694.7,14L700.6,11.6L705.2,12.6L709.9,12.2L716.9,11.4L723.9,11.1L729.7,11.6L736.7,10.5L742.5,11.6L747.1,13.4L754.1,12.2L761.1,11.6L768.1,11.4L773.9,11.1L784.4,10.5L785,7.9L796.6,7L798.4,12.8L800.1,18.6L807.7,21.5L813.5,23.3L819.3,23.9L827.5,27.4L835.7,30.9L838.6,34.9L845,37.3L853.1,44.3L863.6,51.2L871.8,55.3L877.6,57.6L890.4,58L905.5,56.5L919.5,54.7L931.1,52.4L939.3,48.9L941.7,46.8L944.1,58.7L941.7,68.8L939.4,78.1L937.1,85.9L941,92.1L944.8,94.4L945.6,85.9L950.3,85.1L955.7,89L958.8,79.7L966.6,75L972,72.7L973.6,59.5L977.1,50.5L997.6,54.8L1040.3,63.4L1068.3,68.5L1086.9,71.1L1086.1,81.2L1083.8,89L1083,97.1L1115.7,103.8L1156,110.7L1196.4,116.2L1235.2,121.9L1236.8,117L1243.8,106.1L1253.9,93.7L1264.7,89L1268.6,91.3L1269.4,98.3L1272.5,106.1L1273.3,111.5L1281.8,112.3L1292.7,117L1297.3,121.6L1302.8,120.8L1305.1,125.5L1320,128.1L1320.3,128L1328.9,128.7L1336.6,130.3L1342.9,134.9L1355.3,138L1370.8,137.3L1378.6,139.6L1386.3,141.9L1395.7,144.3L1406.5,148.1L1415.8,151.2L1422,156.7L1429.8,162.9L1437.6,168.3L1443.8,174.5L1448.4,180.7L1451.6,187L1457.8,191.6L1464,197L1468.6,202.5L1473.3,205.6L1479.5,207.1L1484.2,211L1505.9,210.6L1506.7,212.6L1503.6,219.6L1501.2,230.4L1510.6,233.5L1513.7,239.8L1516.8,249.1L1518.3,256.8L1519.9,264.6L1523,272.4L1524.5,283.2L1527.6,292.5L1532.3,302.2L1538.5,309.5L1546.3,317.3L1548.6,326.6L1548.6,335.9L1541.6,342.1L1532.3,346.8L1525.3,356.1L1529.2,359.2L1527.6,364.6L1533.9,373.2L1527.6,377.8L1530.7,387.1L1526.1,394.9L1513.7,401.1L1501.2,407.3L1488.8,413.5L1481.1,419L1478,412L1473.3,404.2L1464,408.9L1454.7,415.1L1448.4,419.8L1439.1,422.9L1429.8,429.1L1420.5,436.8L1412.7,444.6L1405,450.8L1398.8,458.6L1392.5,467.9L1384.8,468.7L1378.6,462.5L1369.3,457L1359.9,455.5L1349.1,447.7L1339.8,441.5L1328.9,437.6L1319.6,435.3L1308.7,429.1L1299.4,424.4L1290.1,421.3L1284.6,419.8L1274.5,420.5L1265.2,422.1L1257.5,421.3L1249.7,419L1240.4,416.6L1231.1,415.9L1221.7,414.3L1212.4,412.3L1200,412L1191.3,407.6L1183.5,403L1178.9,398.3L1172.7,396.8L1165.7,398.3L1164.9,406.1L1167.2,410.7L1168,417L1169.6,426.3L1171.9,438.7L1173.4,449.6L1164.9,450.3L1155.6,451.1L1146.3,449.6L1135.4,446.5L1124.5,445.2L1116.8,448L1107.5,451.9L1098.1,453.9L1087.3,454.2L1078,453.9L1067.1,453.4L1065.5,448L1061.6,443.4L1054.7,447.2L1049.2,451.9L1050.8,457.3L1051.6,464.3L1045.3,465.9L1037.6,467.9L1026.7,466.6L1011.2,464.3L992.5,461.2L973.9,457.3L955.3,454.2L936.6,450.3L918,445.7L899.4,441.8L880.7,437.1L865.2,433.3L851.2,427L840.4,420.8L831.8,416.2L834,414.2L836.3,403.3L838.7,390.9L839.4,381.6L839.5,381.5L833.3,375.3L831,369.1L828.6,361.3L824,356.6L820.9,348.9L813.9,348.1L811.6,352L808.4,348.1L802.2,344.2L797.6,336.5L792.9,330.2L791.4,322.5L786.7,316.3L780.5,313.2L775.8,310.8L771.2,313.2L768.1,319.4L761.9,322.5L755.7,325.6L747.9,326.4L740.1,328.7L732.4,333.4L724.6,335.7L721.5,340.3L716.8,341.9L709.1,342.7L699.8,344.2L690.4,345L684.2,348.1L678,349.7L671.8,347.3L664,348.1L659.4,345.8L651.6,346.6L646.2,348.9L644.6,347.3L640.7,339.6L637.6,333.4L634.5,329.5L629.1,331L626.8,323.3L623.7,324L619.8,328.7L619,334.9L614.3,342.7L609.7,348.9L605,352L602.7,348.9L601.1,352L601.9,359.8L598.8,367.5L595.7,372.2L593.4,381.5L587.3,390.9L582.7,400.2L578,411.1L573.4,425L565.6,442.1L559.4,457.6L556.3,467L552.4,471.6L548.5,468.5L542.3,465.4L536.1,460.7L528.3,457.6L522.1,453L519,445.2L512.8,439L508.1,432.8L503.5,421.9L498.8,412.6L494.2,404.5L488,405.3L480.2,404.5L474,405.6L466.2,408.7L458.4,412.6L453.8,418.8L447.6,422.7L442.9,420.4L438.3,421.9L435.9,417.3L439,409.5L439.8,400.2L432,395.5L424.3,392.4L416.5,391.3L408.8,389.8L402.5,389L396.3,385.9L391.7,384.3L387,388.5L383.1,393.7L388.6,400.2L394.8,406.1L399.4,410.7L405.7,416.5L404.1,421.6L401,425L396.3,431.2L391.7,437.5L385.5,442.1L380.8,446.8L376.9,451.4L374.6,459.2L371.5,467L366.8,474.7L362.2,482.5L357.5,488.7L354.4,491L349.8,491.8L342.8,492.6L344.3,496.5L346.6,502.7L345.1,508.9L342,515.1L335.8,519L330.3,522.9L327.2,529.1L328,535.3L329.6,543L324.9,549.3L321.8,555.5L321,564.8L323.4,571L328,577.2L332.7,582.2L335.8,589.7L340.4,597.5L343.5,605.2L349.8,611.4L352.9,616.1L351.3,625.4L348.2,633.2L347.4,642.5L346.6,651.8L346.6,658L342.8,660.3L342,668.9L335.8,668.1L332.7,662.7L328,659.6L324.9,654.9L320.2,648.7L317.9,644L320.2,639.4L318.7,637.8L309.4,639.4L301.6,638.6L295.4,636.3L294.6,630.1L295.4,623.9L291.5,620.7L287.6,616.1L289.2,611.4L294.6,608.3L297,602.1L298.5,592.8L299.3,583.5L299.3,582.2L298.5,578.8L294.6,572.5L290.7,566.3L284.5,563.2L278.3,561.7L274.4,555.5L276,549.3L275.2,543L270.6,538.4L265.9,533.7L261.2,529.8L253.5,530.6L247.3,533L246.5,524.4L242.6,522.9L241.1,519.8L236.4,520.5L230.2,519.8L227.9,513.5L227.1,508.9L230.2,504.2L236.4,504.2L241.1,505.8L246.5,504.2L248.8,510.4L253.5,508.9L259.7,508.1L265.9,508.1L269.8,504.2L271.3,498L269.8,491.8L264.3,488.7L262,482.5L262.8,474.7L267.5,473.2L272.1,471.6L272.1,467L271.3,457.6L269.8,446.8L270.6,439L266.7,434.3L267.5,426.6L269,418.8L264.3,414.2L259.7,408.7L255,401.7L248.8,395.5L243.4,392.4L239.5,396.3L238,400.2L233.3,395.5L230.2,390.9L225.5,384.7L224.8,380L225.5,378.2L224.8,372L225.5,366.6L230.2,364.2L234.8,362.7L234.1,358L231.7,351.8L229.4,345.6L227.9,339.4L224.8,333.2L225.5,330.1L231.7,330.1L233.3,324.6L237.2,323.9L245.7,325.4L249.6,324.6L253.5,320.7L256.6,316.1L255,308.3L256.6,302.1L264.3,294.3L267.5,288.1L273.7,284.3L283,285.8L289.2,288.1L297,286.6L304.7,283.5L312.5,281.1L318.7,278.8L324.9,278.8L322.6,270.3L327.2,267.2L332.7,271.1L338.9,277.3L349.8,276.5L359.1,272.6L365.3,269.5L371.5,269.5L371.5,278.8L373,285.8L368.4,292.8L369.9,297.5L376.9,298.2L378.5,299.8L380.8,302.1L385.5,297.5L394.8,299.8L401,297.5L404.1,299.8L407.2,303.7L411.9,302.1L419.6,293.6L425.8,289.7L429.7,286.6L430.5,280.4L435.2,277.3L438.3,272.6L442.9,267.2L447.6,263.3L452.2,264.1L456.1,261.7L461.6,264.1L467.8,268.7L474,269.5L480.2,273.4L488,271.1L492.6,273.4L498.8,271.1L505,268L514.3,265.6L522.1,263.3L526.8,260.2L529.9,257.1L536.1,257.1L540.7,257.9L550.1,255.5L559.4,254L560,251.8L566.2,251.8L574,248.7L583.3,247.2L591.1,245.6L598.8,243.3L608.1,241L611.2,243.3L619,241.7L626.8,240.2L631.4,234.8L637.6,233.2L640,233.6L643.5,234.8L648.2,235.4L650.5,231.3L652.2,224.3L656.3,223.2L659.2,218.5L659.2,206.9L661.5,202.2L659.8,195.2L663.3,190.6L667.4,184.7L669.7,178.9L678.4,177.7L686.6,177.2L687.7,174.3L680.2,169.6L679.6,164.9L686.6,162L694.7,160.9L704.1,159.1L705.2,151.5L701.7,147L703.5,145.6L707,137.4L705.2,128.1L703.5,116.5L702.3,104.8L700.6,94.3L701.1,83.9L703.5,69.9L705.2,57.1L708.7,48.9L709.9,43.1L703.5,34.9L701.7,29.1L693,28.5L691.2,23.3Z"/>
<path id="lk0" d="M1078.4,130.9L1083,133.3L1087.7,130.9L1090,138.7L1093.1,149.6L1090.8,156.6L1086.9,160.4L1084.6,157.3L1082.3,165.1L1078.4,173.6L1077.6,169.8L1080.2,163.5L1080.7,154.2L1079.9,144.9L1081.5,137.1Z"/>
<path id="lk1" d="M521.4,385.6L527.3,382.6L528.9,390.2L534.9,381.9L538.9,379.1L542.4,373.2L554,370.5L565.7,369.8L573.8,372.5L576.9,379.1L576.2,389.5L570.3,388.9L563.4,385.6L557.5,386.5L555.2,393L547,394.2L540.1,395.8L535.4,398.9L528.4,399.6L524.2,394.2L521.9,390.7Z"/>
</defs>
<g transform="translate(0,0)" stroke="rgba(50,55,15,0.40)" stroke-width="0.85" stroke-linejoin="round">
<g fill="#DEE43B"><use href="#f1"/><use href="#f3"/><use href="#f9"/><use href="#f18"/><use href="#f25"/><use href="#f27"/><use href="#f28"/><use href="#f29"/><use href="#f34"/><use href="#f35"/><use href="#f36"/><use href="#f37"/><use href="#f38"/><use href="#f40"/><use href="#f41"/><use href="#f42"/><use href="#f43"/><use href="#f44"/><use href="#f46"/><use href="#f51"/><use href="#f54"/><use href="#f58"/></g>
<g fill="#93CC38"><use href="#f8"/><use href="#f12"/><use href="#f13"/><use href="#f14"/><use href="#f19"/><use href="#f20"/><use href="#f23"/><use href="#f24"/><use href="#f31"/><use href="#f32"/><use href="#f47"/><use href="#f48"/><use href="#f55"/><use href="#f57"/><use href="#f59"/></g>
<g fill="#E1472A"><use href="#f2"/><use href="#f4"/><use href="#f5"/><use href="#f6"/><use href="#f7"/><use href="#f10"/><use href="#f11"/><use href="#f15"/><use href="#f16"/><use href="#f21"/><use href="#f22"/><use href="#f26"/><use href="#f30"/><use href="#f33"/><use href="#f39"/><use href="#f45"/><use href="#f50"/></g>
<g fill="#DC2428"><use href="#f0"/><use href="#f17"/><use href="#f49"/><use href="#f56"/></g>
<g fill="#4AA63D"><use href="#f52"/><use href="#f53"/></g>
<g fill="#fff" stroke-width="0.7"><use href="#lk0"/><use href="#lk1"/></g>
<use href="#ol" fill="none" stroke="rgba(45,55,15,0.55)" stroke-width="1.1"/>
</g>
<g transform="translate(1378,0)" stroke="rgba(50,55,15,0.40)" stroke-width="0.85" stroke-linejoin="round">
<g fill="#DEE43B"><use href="#f7"/><use href="#f8"/><use href="#f13"/><use href="#f14"/><use href="#f19"/><use href="#f20"/><use href="#f21"/><use href="#f22"/><use href="#f24"/><use href="#f27"/><use href="#f29"/><use href="#f30"/><use href="#f31"/><use href="#f36"/><use href="#f37"/><use href="#f42"/><use href="#f45"/><use href="#f51"/><use href="#f54"/><use href="#f58"/></g>
<g fill="#93CC38"><use href="#f0"/><use href="#f3"/><use href="#f10"/><use href="#f11"/><use href="#f12"/><use href="#f16"/><use href="#f18"/><use href="#f28"/><use href="#f33"/><use href="#f41"/><use href="#f43"/><use href="#f44"/><use href="#f46"/><use href="#f53"/></g>
<g fill="#E1472A"><use href="#f5"/><use href="#f6"/><use href="#f9"/><use href="#f15"/><use href="#f17"/><use href="#f23"/><use href="#f25"/><use href="#f26"/><use href="#f32"/><use href="#f34"/><use href="#f38"/><use href="#f40"/><use href="#f49"/><use href="#f50"/><use href="#f52"/></g>
<g fill="#DC2428"><use href="#f4"/><use href="#f35"/><use href="#f39"/><use href="#f47"/><use href="#f48"/><use href="#f55"/><use href="#f56"/><use href="#f57"/><use href="#f59"/></g>
<g fill="#4AA63D"><use href="#f1"/><use href="#f2"/></g>
<g fill="#fff" stroke-width="0.7"><use href="#lk0"/><use href="#lk1"/></g>
<use href="#ol" fill="none" stroke="rgba(45,55,15,0.55)" stroke-width="1.1"/>
</g>
<g transform="translate(0,721)" stroke="rgba(50,55,15,0.40)" stroke-width="0.85" stroke-linejoin="round">
<g fill="#DEE43B"><use href="#f4"/><use href="#f9"/><use href="#f11"/><use href="#f14"/><use href="#f19"/><use href="#f20"/><use href="#f21"/><use href="#f23"/><use href="#f25"/><use href="#f26"/><use href="#f30"/><use href="#f32"/><use href="#f34"/><use href="#f35"/><use href="#f38"/><use href="#f39"/><use href="#f45"/><use href="#f48"/><use href="#f51"/><use href="#f52"/><use href="#f54"/><use href="#f55"/><use href="#f57"/><use href="#f59"/></g>
<g fill="#93CC38"><use href="#f0"/><use href="#f1"/><use href="#f2"/><use href="#f3"/><use href="#f10"/><use href="#f12"/><use href="#f16"/><use href="#f18"/><use href="#f22"/><use href="#f24"/><use href="#f27"/><use href="#f28"/><use href="#f29"/><use href="#f31"/><use href="#f33"/><use href="#f36"/><use href="#f37"/><use href="#f40"/><use href="#f42"/><use href="#f43"/><use href="#f46"/><use href="#f53"/><use href="#f56"/><use href="#f58"/></g>
<g fill="#E1472A"><use href="#f5"/><use href="#f13"/><use href="#f15"/></g>
<g fill="#DC2428"><use href="#f6"/><use href="#f7"/><use href="#f8"/><use href="#f17"/><use href="#f47"/><use href="#f49"/><use href="#f50"/></g>
<g fill="#4AA63D"><use href="#f41"/><use href="#f44"/></g>
<g fill="#fff" stroke-width="0.7"><use href="#lk0"/><use href="#lk1"/></g>
<use href="#ol" fill="none" stroke="rgba(45,55,15,0.55)" stroke-width="1.1"/>
</g>
<g transform="translate(1378,721)" stroke="rgba(50,55,15,0.40)" stroke-width="0.85" stroke-linejoin="round">
<g fill="#DEE43B"><use href="#f5"/><use href="#f9"/><use href="#f11"/><use href="#f23"/><use href="#f24"/><use href="#f29"/><use href="#f30"/><use href="#f31"/><use href="#f33"/><use href="#f34"/><use href="#f35"/><use href="#f38"/><use href="#f39"/><use href="#f48"/><use href="#f51"/><use href="#f52"/><use href="#f54"/><use href="#f56"/></g>
<g fill="#93CC38"><use href="#f0"/><use href="#f1"/><use href="#f2"/><use href="#f3"/><use href="#f4"/><use href="#f10"/><use href="#f12"/><use href="#f16"/><use href="#f18"/><use href="#f27"/><use href="#f28"/><use href="#f36"/><use href="#f37"/><use href="#f40"/><use href="#f42"/><use href="#f43"/><use href="#f46"/><use href="#f53"/><use href="#f58"/></g>
<g fill="#E1472A"><use href="#f6"/><use href="#f7"/><use href="#f8"/><use href="#f13"/><use href="#f14"/><use href="#f19"/><use href="#f20"/><use href="#f21"/><use href="#f22"/><use href="#f25"/><use href="#f26"/><use href="#f32"/><use href="#f45"/><use href="#f55"/><use href="#f57"/><use href="#f59"/></g>
<g fill="#DC2428"><use href="#f15"/><use href="#f17"/><use href="#f47"/><use href="#f49"/><use href="#f50"/></g>
<g fill="#4AA63D"><use href="#f41"/><use href="#f44"/></g>
<g fill="#fff" stroke-width="0.7"><use href="#lk0"/><use href="#lk1"/></g>
<use href="#ol" fill="none" stroke="rgba(45,55,15,0.55)" stroke-width="1.1"/>
</g>
</svg>
<svg width="3150" height="1592" viewBox="0 0 3150 1592" style="position:absolute;left:0;top:0" fill="#231815" font-family="'Liberation Serif','Noto Serif CJK SC',serif">
<text x="239.20" y="46.90" font-size="55.56px" >1990</text>
<text x="363.12" y="47.68" font-size="55.56px">年</text>
<text x="1625.50" y="46.90" font-size="55.56px" >2000</text>
<text x="1752.02" y="47.68" font-size="55.56px">年</text>
<text x="255.50" y="771.10" font-size="55.56px" >2010</text>
<text x="382.12" y="771.78" font-size="55.56px">年</text>
<text x="1625.50" y="771.10" font-size="55.56px" >2018</text>
<text x="1752.02" y="771.78" font-size="55.56px">年</text>
<text x="2819.92" y="78.78" font-size="55.56px">北</text>
<path d="M2856.6,88.7L2874.6,140.9L2856.6,129.1L2839.1,140.9Z" fill="#111"/>
<text x="2658.20" y="1283.50" font-size="55.56px" word-spacing="-1.6">0 75 150 km</text>
<rect x="2679.2" y="1296.2" width="102.6" height="21.6" rx="1" fill="#fff" stroke="#111" stroke-width="2.6"/>
<rect x="2679" y="1296" width="53.7" height="22" fill="#111"/>
<rect x="737.7" y="1451.2" width="92.6" height="37.8" fill="#DB2328" stroke="#8E2B38" stroke-width="1.4"/>
<rect x="1080.1" y="1451.2" width="92.6" height="37.8" fill="#E04829" stroke="#8A4A3A" stroke-width="1.4"/>
<rect x="1460.3" y="1451.2" width="92.6" height="37.8" fill="#DEE33A" stroke="#6B6B2A" stroke-width="1.4"/>
<rect x="1841.5" y="1451.2" width="92.6" height="37.8" fill="#92CC36" stroke="#5E7A30" stroke-width="1.4"/>
<rect x="2182.7" y="1451.2" width="92.6" height="37.8" fill="#3B7A37" stroke="#3A6A36" stroke-width="1.4"/>
<text x="850.22" y="1491.48" font-size="55.56px">不安全</text>
<text x="1180.42" y="1491.48" font-size="55.56px">较不安全</text>
<text x="1560.12" y="1491.48" font-size="55.56px">临界安全</text>
<text x="1954.22" y="1491.48" font-size="55.56px">较安全</text>
<text x="2287.72" y="1491.48" font-size="55.56px">安全</text>
<text x="507.92" y="1576.18" font-size="55.56px">基于自然资源部标准地图服务网站</text>
<text x="1354.79" y="1575.10" font-size="55.56px" >GS (2019) 3266</text>
<text x="1727.13" y="1576.18" font-size="55.56px">号的标准地图制作</text>
<text x="2171.19" y="1575.10" font-size="55.56px" >,</text>
<text x="2199.39" y="1576.18" font-size="55.56px">底图边界无修改</text>
</svg>
</body></html>
